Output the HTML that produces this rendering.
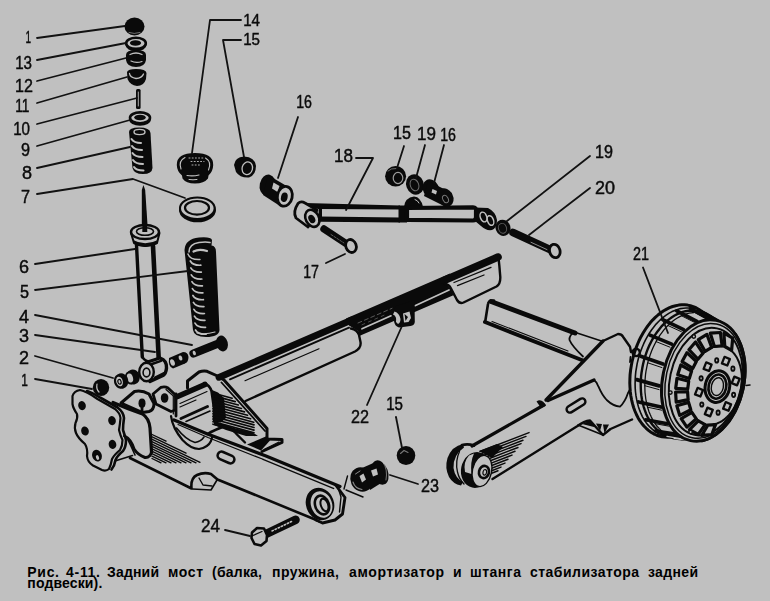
<!DOCTYPE html>
<html lang="ru"><head><meta charset="utf-8"><title>Рис. 4-11. Задний мост</title>
<style>
html,body{margin:0;padding:0;background:#c0c0c0;}
body{width:770px;height:601px;overflow:hidden;position:relative;font-family:"Liberation Sans",sans-serif;}
svg{position:absolute;left:0;top:0;display:block}
.k{stroke:#0a0a0a;fill:none;stroke-linecap:round;stroke-linejoin:round}
.f{fill:#0a0a0a;stroke:none}
.g{fill:#c0c0c0;stroke:#0a0a0a;stroke-linejoin:round;stroke-linecap:round}
.b{fill:#c0c0c0;stroke:none}
.l{stroke:#c0c0c0;fill:none;stroke-linecap:round}
.ld{stroke:#111;stroke-width:1.8;fill:none;stroke-linecap:round;stroke-linejoin:round}
.n{font-family:"Liberation Sans",sans-serif;font-size:18px;fill:#0a0a0a;stroke:#0a0a0a;stroke-width:.45px}
.c{font-family:"Liberation Sans",sans-serif;font-weight:bold;font-size:14px;fill:#000}
</style></head><body>
<svg width="770" height="601" viewBox="0 0 770 601">
<rect width="770" height="601" fill="#c0c0c0"/>
<!-- nut 1 -->
<ellipse class="f" cx="134.5" cy="26.5" rx="10" ry="9"/>
<path class="l" stroke-width="1" d="M129,32.5 Q134,34.5 140,32.5" opacity=".55"/>
<!-- washer 13 -->
<ellipse class="f" cx="136" cy="45" rx="10.5" ry="6.2"/>
<ellipse class="g" stroke-width="2.6" cx="136" cy="43.3" rx="9.8" ry="5.6"/>
<ellipse class="f" cx="135.5" cy="43" rx="5.6" ry="2.8"/>
<!-- cup 12 -->
<path class="f" d="M126,55 Q126,50 136,50 Q146,50 146,55 L146,60 Q145,67 136,67 Q127,67 126,60 Z"/>
<path class="l" stroke-width="1.3" d="M130,54.5 Q136,51.5 142,54.5"/>
<path class="l" stroke-width="1.2" d="M131,61 Q136,63.5 142,61.5"/>
<!-- cup 11 -->
<path class="f" d="M127,72 Q128,69 136,69 Q146,69 146.5,73 L146,79 Q144,86 137,86 Q130,85 127.5,79 Z"/>
<path class="l" stroke-width="1.3" d="M129.5,73.5 Q130,77.5 136,78.5 Q142,78 143.5,74"/>
<!-- pin 10 -->
<rect class="f" x="136" y="89" width="4.6" height="20" rx="1.5"/>
<path class="l" stroke-width=".9" d="M138.3,92 V106"/>
<!-- washer 9 -->
<ellipse class="f" cx="140" cy="119.6" rx="11" ry="6.2"/>
<ellipse class="g" stroke-width="2.6" cx="140" cy="117.8" rx="10" ry="5.4"/>
<ellipse class="f" cx="140" cy="117.5" rx="5.8" ry="2.8"/>
<!-- spring 8 -->
<path class="f" d="M129,132 Q129,127.5 139,127.5 Q150,127.5 150.5,133 L152.5,168 Q152,174 143,174 Q134,174 132.5,168 Z"/>
<ellipse class="l" stroke-width="1.4" cx="139.5" cy="132" rx="5.5" ry="2.6"/>
<g class="l" stroke-width="2">
<path d="M131.5,139 Q134,143 141,143"/>
<path d="M132,146 Q134.5,150 142,150"/>
<path d="M132.5,153 Q135,157 142.5,157"/>
<path d="M133,160 Q135.5,164 143,164"/>
<path d="M134,167 Q136,170.5 143.5,170.5"/>
</g>

<!-- shock rod -->
<path class="f" d="M141.8,190 L143.4,185 L145.2,190 L147.8,229 L141.8,229 Z"/>
<!-- cap -->
<path class="g" stroke-width="2" d="M131,233 L134,243 Q145,249 157,243 L159.5,233 Z"/>
<path class="f" d="M133,240 Q145,246.500 158,240 L157,244 Q145,250 134,244 Z"/>
<ellipse class="g" stroke-width="2.4" cx="145" cy="232" rx="14" ry="7"/>
<ellipse class="g" stroke-width="1.6" cx="145" cy="231.5" rx="8.5" ry="3.8"/>
<path class="f" d="M142.5,222 L147,222 L147.3,232 L142.3,232 Z"/>
<!-- tube -->
<path class="k" stroke-width="3.4" d="M136.5,245 L142.3,357"/>
<path class="k" stroke-width="4.6" d="M153,246 L158.8,360"/>
<path class="k" stroke-width="2.6" d="M142.3,356 Q143.5,360.5 149,361.5"/>
<!-- eye 3 -->
<path class="g" stroke-width="3.4" d="M146,362.5 L160,358 Q167,360.5 166.5,368 Q166,373.500 163,375.500 L150,381.500 Z"/>
<path class="k" stroke-width="2.4" d="M152,364 L161,360.8"/>
<path class="k" stroke-width="2" d="M155,377.5 L164,373"/>
<ellipse class="g" stroke-width="2.4" cx="146.5" cy="372" rx="7.3" ry="9.2"/>
<ellipse class="g" stroke-width="1.6" cx="146.5" cy="372.5" rx="3.4" ry="4.4"/>
<!-- spacer 4 -->
<path class="f" d="M169,358 L183,352 Q188,352 188.5,357 Q188.5,362 185,363.5 L173,368.5 Q168,367 169,358 Z"/>
<ellipse class="b" cx="172.5" cy="362.5" rx="2.2" ry="3.4" transform="rotate(-20 172.5 362.5)"/>
<ellipse class="b" cx="180.5" cy="358" rx="1.8" ry="2.6" transform="rotate(-20 180.5 358)"/>
<!-- bolt 4 -->
<path class="k" stroke-width="8.2" stroke-linecap="butt" d="M193.5,353.5 L219,343.2"/>
<ellipse class="f" cx="222" cy="343.5" rx="5.8" ry="8" transform="rotate(-15 222 343.5)"/>
<ellipse class="b" cx="194.3" cy="353" rx="1.5" ry="2.4" transform="rotate(-20 194.3 353)"/>
<!-- bushings 2 -->
<ellipse class="f" cx="133" cy="377" rx="6.8" ry="7.6" transform="rotate(-15 133 377)"/>
<ellipse class="g" stroke-width="2" cx="130" cy="378" rx="4" ry="5.6" transform="rotate(-15 130 378)"/>
<ellipse class="f" cx="121.5" cy="381" rx="6.8" ry="7.8" transform="rotate(-15 121.5 381)"/>
<ellipse class="g" stroke-width="2.2" cx="119.5" cy="381.5" rx="4.4" ry="6" transform="rotate(-15 119.5 381.5)"/>
<ellipse class="g" stroke-width="1.2" cx="119.5" cy="381.8" rx="1.6" ry="2.4" transform="rotate(-15 119.5 381.8)"/>
<!-- nut 1 lower -->
<ellipse class="f" cx="101" cy="387.5" rx="8.2" ry="8.6"/>
<path class="l" stroke-width="1.2" d="M97,384 Q96,389 99,392"/>

<!-- spring 5 -->
<path class="f" d="M184.5,250 Q185,239 199,237.5 Q211,236.5 212,240 L211.5,245.5 Q216,246 216,252 L219.5,330 Q219,337 206,337 Q194,337 193,330 Z"/>
<path class="l" stroke-width="1.6" d="M189,252 Q189,244 199,242.5 Q206,241.5 210,242.5"/>
<path class="l" stroke-width="2.2" d="M193.5,251.5 Q199,248.5 207,251"/>
<path class="l" stroke-width="1.4" d="M188,254 Q190,260 200,259.5"/>
<g class="l" stroke-width="1.7">
<path d="M190.3,261.0 Q192.8,265.6 200.8,265.2"/>
<path d="M190.8,267.9 Q193.3,272.5 201.3,272.1"/>
<path d="M191.3,274.8 Q193.8,279.4 201.8,279.0"/>
<path d="M191.9,281.7 Q194.4,286.3 202.4,285.9"/>
<path d="M192.4,288.6 Q194.9,293.2 202.9,292.8"/>
<path d="M192.9,295.5 Q195.4,300.1 203.4,299.7"/>
<path d="M193.4,302.4 Q195.9,307.0 203.9,306.6"/>
<path d="M193.9,309.3 Q196.4,313.9 204.4,313.5"/>
<path d="M194.4,316.2 Q196.9,320.8 204.9,320.4"/>
<path d="M195.0,323.1 Q197.5,327.7 205.5,327.3"/>
<path d="M195.5,330.0 Q198.0,334.6 206.0,334.2"/>
</g>
<path class="l" stroke-width="1.2" d="M197,333 Q205,335 215,332"/>

<!-- cup 14 -->
<path class="f" d="M176.800,165 Q176.500,153 195,153 Q213.500,153 213.200,165 Q213,171.500 208.500,175.500 L208,178.500 Q204,183.500 195,183.500 Q186,183.500 182.500,178.500 L182,175.500 Q177,171.500 176.800,165 Z"/>
<path class="l" stroke-width="1.1" d="M181,169 Q178,161 185,157.500"/>
<path class="l" stroke-width="1.1" d="M208.500,170 Q212,162 205.500,158"/>
<path class="l" stroke-width="1.1" d="M187,175.500 Q193,176.500 199,175"/>
<path class="l" stroke-width="1" d="M189,179.500 Q193,180.200 197,179.500"/>
<g class="l" stroke-width=".9" stroke-dasharray="1 2.200"><path d="M189,158 H203"/><path d="M191,161.500 H204"/><path d="M192,165 H200"/></g>
<!-- nut 15 -->
<path class="f" d="M234,165 Q235,157 244,156.500 Q255,157 256,166 Q256,175 249,177.500 Q240,178 236,172 Z"/>
<ellipse class="l" stroke-width="1.300" cx="247.300" cy="168.300" rx="5.200" ry="6.400" transform="rotate(15 247.300 168.300)"/>
<!-- ring 7 -->
<ellipse class="f" cx="197.500" cy="210" rx="18.500" ry="12.300"/>
<ellipse class="g" stroke-width="2" cx="197.300" cy="208.300" rx="17.3" ry="10.800"/>
<ellipse class="g" stroke-width="2.200" cx="197" cy="207.800" rx="12" ry="6.800"/>

<!-- bushing 16 (left) -->
<ellipse class="f" cx="267.5" cy="185" rx="7.8" ry="10.6" transform="rotate(12 267.5 185)"/>
<path class="f" d="M268,175 L290,188 L280,206 L263,195 Z"/>
<path class="b" d="M273.500,182.500 L279.500,186 L277.500,192 L272,188.500 Z"/>
<ellipse class="g" stroke-width="2.800" cx="284.800" cy="196.300" rx="7.400" ry="10" transform="rotate(12 284.800 196.300)"/>
<ellipse class="f" cx="284.300" cy="197.300" rx="3.300" ry="4.800" transform="rotate(12 284.300 197.300)"/>
<!-- rod 18 left eye -->
<path class="g" stroke-width="2.8" d="M298,203.5 Q301,200.500 305,203 L317,210 L308,227 L296,218 Q292.500,212 298,203.500 Z"/>
<ellipse class="g" stroke-width="2.600" cx="312.300" cy="218.300" rx="6.600" ry="9" transform="rotate(-28 312.300 218.300)"/>
<ellipse class="f" cx="311.800" cy="219" rx="3.200" ry="4.400" transform="rotate(-28 311.800 219)"/>
<!-- rod body -->
<path class="f" d="M305,203 L400,205.600 L400,209.500 L318,209 L309,205.800 Z"/>
<path class="f" d="M320,216.500 L400,217.500 L400,222.500 L320,221.800 Z"/>
<path class="f" d="M319,207 L322,207 L322,221 L318,221 Z"/>
<!-- joint -->
<path class="f" d="M398.500,205.500 H407 V222.500 H398.500 Z"/>
<path class="f" d="M404,207 Q405,197.500 414,196.500 Q421,197 423,207 Z"/>
<path class="l" stroke-width="1" d="M415,199.500 Q418,200.500 419,203"/>
<!-- rod right segment -->
<path class="g" stroke-width="4.200" d="M407,208 L473,207.400 Q476.500,207.500 476,211 L476,217 Q476,220.500 473,220.500 L407,219.800 Z"/>
<!-- right eye -->
<path class="f" d="M475,207.500 L488,208 Q496,212 497,220 Q497,228 492,230 Q486,231 481,226 L475,221 Z"/>
<ellipse class="l" stroke-width="1.500" cx="483.500" cy="217" rx="3.200" ry="5" transform="rotate(-20 483.500 217)"/>
<ellipse class="l" stroke-width="1.500" cx="490.500" cy="220.500" rx="3" ry="5" transform="rotate(-20 490.500 220.500)"/>
<!-- nut 15 -->
<ellipse class="f" cx="395.600" cy="176.300" rx="10.500" ry="10.300"/>
<ellipse class="l" stroke-width="1.200" cx="398" cy="178" rx="4.800" ry="5.600" opacity=".8"/>
<path class="l" stroke-width=".9" d="M388,171 Q391,168 396,168.500" opacity=".6"/>
<!-- washer 19 -->
<ellipse class="f" cx="415" cy="184.500" rx="8.800" ry="10.400" transform="rotate(-20 415 184.500)"/>
<ellipse class="l" stroke-width="1" cx="414.500" cy="185" rx="4.200" ry="6" transform="rotate(-20 414.500 185)" opacity=".55"/>
<!-- bushing 16 right -->
<ellipse class="f" cx="431" cy="189" rx="8" ry="10" transform="rotate(-28 431 189)"/>
<path class="f" d="M428,181 L452,193 L446,207 L424,196 Z"/>
<ellipse class="f" cx="445.500" cy="197.500" rx="7.600" ry="9.600" transform="rotate(-28 445.500 197.500)"/>
<path class="b" d="M432.500,189 L437,191 L436,194.500 L431.500,192.500 Z"/>
<ellipse class="l" stroke-width="1" cx="445.500" cy="199" rx="2.600" ry="4" transform="rotate(-28 445.500 199)" opacity=".6"/>
<!-- washer 19 (right) -->
<ellipse class="f" cx="503" cy="227.800" rx="7.400" ry="8.200" transform="rotate(-20 503 227.800)"/>
<ellipse class="l" stroke-width="1" cx="502.500" cy="228.300" rx="4" ry="5" transform="rotate(-20 502.500 228.300)" opacity=".45"/>
<!-- bolt 20 -->
<path class="k" stroke-width="7.600" stroke-linecap="butt" d="M513,232.500 L551,250"/>
<path class="l" stroke-width="1" d="M531,242.300 L547,249.600" opacity=".7"/>
<ellipse class="g" stroke-width="2.800" cx="554.800" cy="251" rx="5.200" ry="6.800" transform="rotate(-15 554.800 251)"/>
<!-- bolt 17 -->
<path class="k" stroke-width="7.400" stroke-linecap="butt" d="M324,229 L346,243.500"/>
<path class="l" stroke-width=".9" d="M331,234.500 L344,243" opacity=".5" stroke-dasharray="2 1.500"/>
<ellipse class="g" stroke-width="2.800" cx="351" cy="246" rx="5.200" ry="6.600" transform="rotate(-20 351 246)"/>

<path class="k" stroke-width="6.8" stroke-linecap="butt" d="M219.0,377.3 L352.0,319.9"/>
<path class="k" stroke-width="1.9" d="M230.0,379.3 L349.0,327.6"/>
<path class="k" stroke-width="1.2" d="M245.0,380.7 L319.0,348.8"/>
<path class="k" stroke-width="2.4" d="M245.5,401 L355,351.5 Q361.5,348 360.5,342 L359,335 Q357.5,330 351,328.5"/>
<path class="f" d="M346.0,318.4 L450.0,273.5 L446.5,284.5 L451,289.5 L454,295.5 L454.0,295.1 L361.0,335.2 L359.5,336 L358,331 L349.0,325.4 Z"/>
<path class="l" stroke-width="1.7" d="M362.0,328.8 L391.0,315.8"/>
<path class="l" stroke-width="1.7" d="M415.0,305.7 L449.0,290.0"/>
<path class="l" stroke-width=".8" stroke-dasharray="4 3" d="M358.0,323.0 L392.0,308.3" opacity=".55"/>
<path class="l" stroke-width=".8" stroke-dasharray="3 4" d="M362.0,324.8 L385.0,314.8" opacity=".45"/>
<path class="f" d="M392.5,313 L396,306 L414.5,300 L414.8,322 Q414.5,325.5 410.5,326 L399,327.5 Q394.5,326 394,321 Z"/>
<path class="b" d="M394.500,311.500 Q399.500,313 400.500,319 Q400.500,323 398,324 L396,322 Q397,316 393,314.500 Z"/>
<path class="b" d="M403,313.500 L409.500,311.500 L411,318 L408.500,322 L404,322.500 Z"/>
<path class="f" d="M404.500,314 L408,317 L405.500,321 Z"/>
<path class="k" stroke-width="7.6" stroke-linecap="butt" d="M444.0,280.4 L498.0,257.1"/>
<path class="k" stroke-width="2.4" d="M498.200,255 Q499.500,266 500.300,277 Q500.500,284 496.500,286.500 L463.500,302.500 Q459.500,304 457,300 L451,288.500 Q449,284.500 445,284"/>
<path class="k" stroke-width="1.300" d="M454,282.500 L491,267.300"/>
<path class="k" stroke-width="1.300" d="M457.500,285.600 L484,275"/>
<!-- flange plate -->
<path class="g" stroke-width="2.2" d="M72.500,396 Q74,391 80,390 Q86,391 97.500,399 L115,409 Q120,413 120.500,418 Q120,424 119,430 Q120.500,436 122.500,440 Q122.500,446 120,450 Q114,455 112,459 Q111,465 109,469 Q106,471.500 102,470 L93,465.500 Q87.500,462 87,456 Q88,449 85,444 Q78,438 76,433 Q74,428 75.500,423 Q78,418 77,414 Q73,408 72.500,404 Z"/>
<path class="k" stroke-width="2.600" d="M87,391 Q93,393 100,397.500 L117.500,407.500 Q123.500,412 124,418 Q123,425 123,430 Q125,436 126,440 Q126,447 123,451 Q117,456 115.500,460 Q114.500,466 111.500,469.500"/>
<g class="f">
<ellipse cx="82" cy="405.600" rx="3.800" ry="4.600" transform="rotate(-15 82 405.600)"/>
<ellipse cx="112" cy="420.600" rx="3.800" ry="4.600" transform="rotate(-15 112 420.600)"/>
<ellipse cx="85" cy="431" rx="3.800" ry="4.600" transform="rotate(-15 85 431)"/>
<ellipse cx="112.500" cy="444.400" rx="3.800" ry="4.600" transform="rotate(-15 112.500 444.400)"/>
<ellipse cx="97" cy="455.600" rx="4.800" ry="6" transform="rotate(-20 97 455.600)"/>
</g>
<ellipse class="b" cx="97.500" cy="457.500" rx="1.500" ry="2.500" transform="rotate(-20 97.500 457.500)"/>
<!-- ears -->
<path class="g" stroke-width="3" d="M121,403 L134.500,391.500 Q142,390 149,394 L154,403.500 Q154,410 149,411.500 L142.500,412.500 Z"/>
<ellipse class="f" cx="142" cy="403.200" rx="3.500" ry="4.600"/>
<path class="f" d="M140.600,405 h2.800 v7 h-2.800 Z"/>
<path class="g" stroke-width="2.800" d="M153,394 L161,387.300 Q165,386 168,388 L175.500,395 L175.500,410 L171,411.500 L156,404 Z"/>
<ellipse class="f" cx="164.600" cy="398" rx="3.800" ry="4.800"/>
<path class="k" stroke-width="1.200" d="M166,389.500 L174,396.500"/>
<!-- saddle -->
<path class="k" stroke-width="3.200" d="M113,402.500 Q128,409 142.500,414 Q149,418 150,428 L151.500,452"/>
<path class="k" stroke-width="3" d="M124.500,436 Q131,439 134,449 Q138,455 145,457.500 Q150,458 151.500,452"/>
<path class="k" stroke-width="1.600" d="M128,440 Q131.500,447 135,455"/>
<path class="k" stroke-width="1.600" d="M115,461 L132.500,455.500"/>
<!-- box bracket vertical edge -->
<path class="k" stroke-width="2.800" d="M176,394 L176,416"/>
<path class="k" stroke-width="1.200" d="M173.300,396 L173.300,414"/>
<!-- spring seat bracket outer -->
<path class="k" stroke-width="3" d="M187.500,388 L187.500,381 L199,372 Q203,370.500 207,371.300 L217.500,376 L224,380 L267,428.500 L267,439 L282,439.500 L282,442.500 L262,451.500"/>
<path class="k" stroke-width="1.800" d="M221.500,382.500 L265,431"/>
<path class="f" d="M247,444.500 L267,436 L270,440.500 L261,450.500 Z"/>
<path class="k" stroke-width="1.2" d="M264,449.500 L279,442"/>
<!-- inner box -->
<path class="k" stroke-width="5.600" stroke-linecap="butt" d="M177.500,396.500 L205,384.500"/>
<path class="k" stroke-width="2.600" d="M204,383 Q209.500,385 211.500,391 L214,408 L214,420"/>
<path class="k" stroke-width="1.200" d="M180,403.500 L207,391.500"/>
<path class="k" stroke-width="1.200" d="M180,407 L196,400"/>
<path class="k" stroke-width="3" d="M181,418.500 L207.500,406.500"/>
<path class="k" stroke-width="1.600" d="M186,421.500 L210,411"/>
<!-- dark hatch triangle -->
<path class="f" d="M212,390 L218,392.500 L224,398 L226,418 L221,422.500 L214,422 Z"/>
<g class="k" stroke-width="1.7" stroke-linecap="butt">
<path d="M213.0,393.0 L232.1,398.2"/>
<path d="M213.0,395.6 L235.2,401.6"/>
<path d="M213.0,398.2 L238.3,405.0"/>
<path d="M213.0,400.8 L241.4,408.5"/>
<path d="M213.0,403.4 L244.5,411.9"/>
<path d="M213.0,406.0 L247.5,415.3"/>
<path d="M213.0,408.6 L250.6,418.8"/>
<path d="M213.0,411.2 L253.7,422.2"/>
<path d="M213.0,413.8 L254.0,424.9"/>
<path d="M213.0,416.4 L254.0,427.5"/>
<path d="M213.0,419.0 L254.0,430.1"/>
<path d="M213.0,421.6 L254.0,432.7"/>
<path d="M213.0,424.2 L254.0,435.3"/>
</g>
<path class="f" d="M214,421.500 L236,428.500 L252,432 L258,436 L246,436 L226,430 L214,425 Z"/>
<!-- hump -->
<path class="k" stroke-width="2.400" d="M207.500,434 Q214,430 224,426.500 Q232,428 237.500,435 L245,442.500"/>
<!-- U curves -->
<path class="k" stroke-width="2.200" d="M171,416 Q172.500,428 182.500,440 Q191,449 199,449 Q208,447.500 211,441 L212.500,436"/>
<path class="k" stroke-width="1.600" d="M176.500,428 Q186,440 195,442.500 Q201,441.500 204,437"/>
<path class="k" stroke-width="1.200" d="M178,421 L206,433.500"/>

<!-- left trailing arm -->
<path class="k" stroke-width="3.200" d="M174,420 L207.500,434 L266,456 L340,486.500"/>
<path class="k" stroke-width="1.200" d="M178,424.500 L208,437.500 L263,459.300"/>
<path class="k" stroke-width="1.300" d="M263,459.300 L337,489.800"/>
<path class="k" stroke-width="2.600" d="M130,458 L191.500,488.500 Q190.500,478 197,475 Q204,471.800 211,474 L217.500,479.500 L320,521.500"/>
<path class="k" stroke-width="1.600" d="M192.500,489 L211,490 L217,480"/>
<path class="k" stroke-width="1.400" d="M199,478 L203,485 L212,486"/>
<!-- slot -->
<rect class="g" stroke-width="2.600" x="217.200" y="453.600" width="17.600" height="7.800" rx="3.900" transform="rotate(24 226 457.500)"/>
<!-- hatch -->
<g class="k" stroke-width="1.35">
<path d="M151.0,434.0 L166,441.2"/><path d="M151.1,436.4 L186,453.2"/><path d="M151.2,438.9 L200,462.3"/><path d="M151.3,441.4 L196,462.8"/><path d="M151.4,443.8 L191,462.8"/><path d="M151.5,446.2 L186,462.8"/><path d="M151.6,448.7 L181,462.8"/><path d="M151.7,451.1 L176,462.8"/><path d="M151.8,453.6 L171,462.8"/><path d="M151.9,456.1 L166,462.8"/><path d="M152.0,458.5 L161,462.8"/>
</g>
<!-- end -->
<path class="g" stroke-width="2.900" d="M336,485.500 L345,497.500 L342.500,514 L335,520 L322.500,523 L316,520"/>
<path class="k" stroke-width="1.400" d="M338.500,489 L341,497 L339.500,512"/>
<ellipse class="f" cx="320" cy="504" rx="14" ry="16.500" transform="rotate(-20 320 504)"/>
<ellipse class="b" cx="321.500" cy="504.500" rx="10.500" ry="13.500" transform="rotate(-20 321.500 504.500)"/>
<ellipse class="k" stroke-width="2.600" cx="322" cy="505" rx="6.800" ry="9.600" transform="rotate(-20 322 505)"/>
<ellipse class="k" stroke-width="2" cx="324.500" cy="505" rx="3.600" ry="6.600" transform="rotate(-20 324.500 505)"/>
<!-- small lines near end -->
<path class="k" stroke-width="1.400" d="M347.500,476 L344,489"/>
<path class="k" stroke-width="1.400" d="M346,490 L363,497"/>

<!-- right arm tube -->
<path class="g" stroke-width="0" d="M492,299 L603,341 L583,360 L485,322.500 L488,303 Z"/>
<path class="k" stroke-width="5" stroke-linecap="butt" d="M491,301.500 L575,333"/>
<path class="k" stroke-width="1.600" d="M574,332 L603,341.500"/>
<path class="k" stroke-width="2.600" d="M494,300.500 Q488.500,300 488,304 L485.300,321"/>
<path class="k" stroke-width="4" stroke-linecap="butt" d="M485,322 L583,360.500"/>
<path class="k" stroke-width="1.100" d="M492,321.500 L568,351"/>
<path class="k" stroke-width="1.800" d="M575,331.700 Q569,335 569.500,340 Q572,346 583,356.500"/>
<!-- bracket -->
<path class="k" stroke-width="3.400" d="M603,341 L546,400"/>
<path class="k" stroke-width="2.400" d="M603,341 L618,334 Q621.500,334 623,336.700 L630,346.700 L631,352"/>
<path class="k" stroke-width="1.800" d="M630.500,357 L630,362"/>
<path class="k" stroke-width="3.400" d="M548,400.500 L594,380"/>
<path class="k" stroke-width="1.800" d="M594,380 Q597,382 598.500,386.700 Q602,395 606.700,400 Q613,406 620,406.700 Q625,402 628,393 L632,386"/>
<path class="f" d="M536.500,401.500 Q540,399 543.500,402 L546,405.500 L541,408 Z"/>
<!-- slot -->
<rect class="g" stroke-width="2.400" x="565.500" y="402.200" width="21" height="6.600" rx="3.300" transform="rotate(-32 576 405.500)"/>
<!-- arm edges -->
<path class="k" stroke-width="3.200" d="M544,405 L472,446"/>
<path class="k" stroke-width="2.400" d="M632,419.500 L610.500,429 L603,435 L590,420.500 Q584,421 577.500,426 L492.500,479"/>
<path class="f" d="M582,424 L590,420.500 L596,427.500 Z"/>
<path class="f" d="M596,423.500 L602,424 L600,431 Z"/>
<path class="f" d="M603,424.500 L609,424.500 L604.500,433.500 Z"/>
<path class="k" stroke-width="1.600" d="M578,425 L603,435"/>
<!-- hatch -->
<g class="k" stroke-width="1.45">
<path d="M480,451.5 L529,432.6"/><path d="M482,453.3 L526,436.4"/><path d="M484,455.2 L523,440.2"/><path d="M486,457.1 L521,443.6"/><path d="M487.5,459.2 L518,447.5"/><path d="M489,461.3 L515,451.3"/><path d="M490,463.6 L512,455.1"/><path d="M490.5,466 L508,459.3"/><path d="M491,468.5 L505,463.1"/><path d="M491,471 L501,467.1"/><path d="M491,473.5 L498,470.8"/>
</g>
<!-- bushing -->
<path class="f" d="M463,444 Q452,446 447.500,458 Q444.500,468 449,477 Q453,484 461,485.500 L463,482 Q455,478 453.500,468 Q453,455 464,447.500 Z"/>
<path class="k" stroke-width="1.300" d="M459.500,451.500 Q455,461 457.500,472 Q459,479 464,484"/>
<path class="k" stroke-width="2.800" d="M462,445 Q468,443.500 474,445.500"/>
<ellipse class="f" cx="476" cy="470" rx="15" ry="18" transform="rotate(12 476 470)"/>
<path class="b" d="M465,472 Q463,462 469,455.500 L474,453.500 Q470,462 471.500,474 Z"/>
<ellipse class="g" stroke-width="1.3" cx="482" cy="471" rx="9.600" ry="15.800" transform="rotate(12 482 471)"/>
<ellipse class="g" stroke-width="2.600" cx="484" cy="472" rx="5" ry="6.200" transform="rotate(12 484 472)"/>
<ellipse class="k" stroke-width="1.200" cx="484.800" cy="472.300" rx="1.800" ry="2.800" transform="rotate(12 484.800 472.300)"/>
<path class="f" d="M479,451 L497,444 L503,447 L492,458 Z"/>

<!-- nut 15 lower -->
<ellipse class="f" cx="406" cy="455.500" rx="9.300" ry="9.500"/>
<path class="l" stroke-width="1.100" d="M400.500,453.500 L404,450.500 L408,452.500" opacity=".6"/>
<!-- part 23 -->
<ellipse class="f" cx="361.500" cy="479.500" rx="11" ry="12.500" transform="rotate(-25 361.500 479.500)"/>
<path class="f" d="M362,468 L378,461 L386,480 L370,490 Z"/>
<ellipse class="f" cx="380" cy="472.500" rx="8" ry="12.600" transform="rotate(-20 380 472.500)"/>
<path class="b" d="M359.500,476 L363.500,473.500 L366,479.500 L362,482.500 Z"/>
<path class="b" d="M371,470.500 L376.500,468.500 L378,474.500 L373,476.500 Z"/>
<path class="l" stroke-width="1.100" d="M353,482 Q355,488.500 362,489.500" opacity=".7"/>
<path class="l" stroke-width="1" d="M355.500,474 L360,471" opacity=".7"/>
<path class="l" stroke-width="1" d="M383,462.500 Q388,469 386,480" opacity=".6"/>
<!-- bolt 24 -->
<path class="k" stroke-width="8.600" stroke-linecap="butt" d="M266,534.000 L295.500,519.800"/>
<path class="l" stroke-width="1.600" stroke-dasharray="1.400 2" d="M272,531 L291.500,521.500"/>
<path class="g" stroke-width="2.600" d="M252,532.500 L257,528 L264,528.500 L267,535 L266.500,541 L261,545.500 L254.500,544 L251.500,538 Z"/>
<path class="k" stroke-width="1.300" d="M253,535.500 L262,531.500"/>

<path class="g" stroke-width="3" d="M710.1,320.3 L708.0,317.6 L705.9,315.1 L703.6,312.9 L701.2,310.9 L698.6,309.2 L696.0,307.7 L693.2,306.6 L690.4,305.7 L687.6,305.1 L684.6,304.8 L681.7,304.8 L678.7,305.1 L675.7,305.7 L672.6,306.5 L669.6,307.7 L666.7,309.1 L663.7,310.8 L660.8,312.8 L658.0,315.0 L655.3,317.4 L652.6,320.1 L650.0,323.1 L647.6,326.2 L645.3,329.5 L643.1,333.0 L641.0,336.7 L639.1,340.5 L637.4,344.5 L635.8,348.6 L634.4,352.8 L633.2,357.0 L632.1,361.3 L631.3,365.7 L630.6,370.1 L630.1,374.5 L629.9,378.9 L629.8,383.2 L630.0,387.5 L630.3,391.7 L630.8,395.8 L631.6,399.8 L632.5,403.7 L633.6,407.5 L634.9,411.0 L636.4,414.5 L638.0,417.7 L639.8,420.7 L641.8,423.5 L643.9,426.0 L646.2,428.3 L648.5,430.4 L651.0,432.2 L653.6,433.8 L656.3,435.0 L659.1,436.0 L662.0,436.7 L664.9,437.1 L667.8,437.2 L670.8,437.0 L673.8,436.6 L702.0,440.7 L703.6,440.3 L705.2,439.8 L706.8,439.3 L708.4,438.6 L709.9,437.9 L711.5,437.1 L713.1,436.2 L714.6,435.3 L716.2,434.2 L717.7,433.1 L719.2,431.9 L720.6,430.6 L722.1,429.3 L723.5,427.8 L724.9,426.3 L726.2,424.8 L727.6,423.1 L728.8,421.5 L730.1,419.7 L731.3,417.9 L732.5,416.0 L733.6,414.1 L734.7,412.1 L735.7,410.1 L736.7,408.1 L737.6,406.0 L738.5,403.8 L739.3,401.7 L740.1,399.5 L740.8,397.2 L741.5,395.0 L742.1,392.7 L742.7,390.4 L743.2,388.1 L743.6,385.8 L744.0,383.5 L744.3,381.1 L744.6,378.8 L744.8,376.5 L744.9,374.1 L745.0,371.8 L745.0,369.5 L745.0,367.2 L744.9,365.0 L744.7,362.7 L744.5,360.5 L744.2,358.3 L743.8,356.2 L743.4,354.0 L742.9,352.0 L742.4,349.9 L741.8,347.9 L741.2,346.0 L740.5,344.1 L739.7,342.3 L738.9,340.5 L738.1,338.8 L737.2,337.1 L736.2,335.5 L735.2,334.0 Z"/>
<path class="k" stroke-width="1.6" d="M694.4,308.9 L691.7,308.3 L688.9,308.0 L686.1,308.0 L683.3,308.2 L680.5,308.6 L677.6,309.4 L674.8,310.4 L672.0,311.6 L669.2,313.1 L666.5,314.9 L663.8,316.9 L661.1,319.1 L658.6,321.5 L656.1,324.1 L653.8,327.0 L651.5,330.0 L649.3,333.2 L647.3,336.6 L645.4,340.1 L643.7,343.7 L642.1,347.5 L640.6,351.4 L639.3,355.3 L638.2,359.3 L637.2,363.4 L636.5,367.5 L635.8,371.7 L635.4,375.8 L635.2,379.9 L635.1,384.0 L635.2,388.1 L635.5,392.0 L636.0,395.9 L636.7,399.7 L637.5,403.4 L638.5,407.0 L639.7,410.4 L641.0,413.7 L642.5,416.8 L644.2,419.7 L646.0,422.4 L647.9,424.9 L650.0,427.2 L652.2,429.2 L654.5,431.1 L656.9,432.7 L659.4,434.0 L661.9,435.1 L664.6,435.9 L667.3,436.5"/>
<path class="k" stroke-width="2.4" d="M699.1,311.5 L696.5,311.0 L693.8,310.7 L691.1,310.6 L688.4,310.8 L685.6,311.2 L682.8,311.9 L680.1,312.9 L677.3,314.1 L674.6,315.5 L671.9,317.2 L669.3,319.1 L666.7,321.2 L664.2,323.6 L661.8,326.1 L659.5,328.9 L657.3,331.8 L655.1,334.9 L653.1,338.1 L651.3,341.5 L649.5,345.1 L647.9,348.7 L646.5,352.4 L645.2,356.3 L644.0,360.2 L643.1,364.1 L642.3,368.1 L641.6,372.2 L641.1,376.2 L640.9,380.2 L640.7,384.2 L640.8,388.2 L641.0,392.1 L641.4,395.9 L642.0,399.7 L642.8,403.3 L643.7,406.8 L644.8,410.2 L646.0,413.4 L647.4,416.5 L648.9,419.4 L650.6,422.2 L652.5,424.7 L654.4,427.0 L656.5,429.1 L658.7,431.0 L661.0,432.7 L663.3,434.1 L665.8,435.3 L668.4,436.2 L671.0,436.9"/>
<path class="k" stroke-width="1.3" d="M693.8,312.5 L691.4,312.8 L689.0,313.2 L686.5,313.8 L684.1,314.6 L681.7,315.6 L679.3,316.9 L676.9,318.2 L674.6,319.8 L672.3,321.6 L670.0,323.5 L667.8,325.6 L665.7,327.8 L663.7,330.2 L661.7,332.8 L659.8,335.4 L658.0,338.3 L656.3,341.2 L654.7,344.2 L653.2,347.3 L651.8,350.6 L650.5,353.9 L649.4,357.2 L648.3,360.7 L647.4,364.1 L646.7,367.7 L646.0,371.2 L645.5,374.7 L645.2,378.3 L644.9,381.8 L644.8,385.3 L644.9,388.8 L645.0,392.3 L645.4,395.7 L645.8,399.0 L646.4,402.2 L647.1,405.4 L648.0,408.5 L648.9,411.4 L650.1,414.3 L651.3,417.0 L652.6,419.6 L654.1,422.0 L655.6,424.3 L657.3,426.5 L659.1,428.4 L660.9,430.2 L662.9,431.9 L664.9,433.3 L667.0,434.6 L669.1,435.6"/>
<path class="k" stroke-width="3.7" stroke-linecap="butt" d="M702.7,312.5 L721.2,322.9"/>
<path class="k" stroke-width="1" stroke-linecap="butt" d="M707.1,315.1 L719.0,321.7"/>
<path class="k" stroke-width="3.7" stroke-linecap="butt" d="M690.5,308.7 L709.8,319.3"/>
<path class="k" stroke-width="1" stroke-linecap="butt" d="M694.9,312.5 L707.3,319.2"/>
<path class="k" stroke-width="3.7" stroke-linecap="butt" d="M676.8,310.9 L696.9,321.3"/>
<path class="k" stroke-width="1" stroke-linecap="butt" d="M681.5,315.8 L694.4,322.3"/>
<path class="k" stroke-width="3.7" stroke-linecap="butt" d="M662.7,319.6 L683.6,329.6"/>
<path class="k" stroke-width="1" stroke-linecap="butt" d="M667.9,325.5 L681.4,331.7"/>
<path class="k" stroke-width="3.7" stroke-linecap="butt" d="M650.0,335.1 L671.7,344.1"/>
<path class="k" stroke-width="1" stroke-linecap="butt" d="M656.1,341.6 L670.0,347.2"/>
<path class="k" stroke-width="3.7" stroke-linecap="butt" d="M640.7,356.2 L663.0,364.0"/>
<path class="k" stroke-width="1" stroke-linecap="butt" d="M647.8,362.8 L662.0,367.6"/>
<path class="k" stroke-width="3.7" stroke-linecap="butt" d="M636.7,379.6 L659.2,385.9"/>
<path class="k" stroke-width="1" stroke-linecap="butt" d="M644.8,385.7 L659.1,389.6"/>
<path class="k" stroke-width="3.7" stroke-linecap="butt" d="M638.6,402.0 L661.0,407.0"/>
<path class="k" stroke-width="1" stroke-linecap="butt" d="M647.6,407.2 L661.8,410.2"/>
<path class="k" stroke-width="3.7" stroke-linecap="butt" d="M645.6,419.8 L667.6,423.7"/>
<path class="k" stroke-width="1" stroke-linecap="butt" d="M655.2,423.7 L669.1,426.2"/>
<path class="k" stroke-width="3.7" stroke-linecap="butt" d="M655.5,431.0 L676.9,434.3"/>
<path class="k" stroke-width="1" stroke-linecap="butt" d="M665.5,433.7 L679.0,435.7"/>
<path class="k" stroke-width="3.7" stroke-linecap="butt" d="M665.8,436.0 L686.5,439.0"/>
<path class="k" stroke-width="1" stroke-linecap="butt" d="M675.8,437.7 L688.9,439.5"/>
<path class="k" stroke-width="2.4" d="M715.5,320.3 L713.3,318.2 L710.9,316.3 L708.4,314.7 L705.9,313.3 L703.2,312.2 L700.5,311.4 L697.7,310.9 L694.9,310.6 L692.0,310.6 L689.1,310.9"/>
<path class="k" stroke-width="1.6" d="M722.1,324.0 L720.3,322.2 L718.3,320.6 L716.3,319.2 L714.3,317.9 L712.1,316.9 L709.9,316.0 L707.7,315.3 L705.4,314.8 L703.1,314.5 L700.7,314.4"/>
<path class="k" stroke-width="2.4" d="M668.9,436.6 L670.5,437.2 L672.2,437.8 L673.9,438.3 L675.7,438.6 L677.5,438.9 L679.3,439.0 L681.1,439.0 L682.9,438.9 L684.7,438.7 L686.5,438.4"/>
<path class="k" stroke-width="2" d="M676.5,437.7 L678.3,438.4 L680.1,439.0 L681.9,439.4 L683.8,439.8 L685.7,440.0 L687.6,440.1 L689.5,440.0 L691.4,439.9 L693.3,439.6 L695.3,439.1"/>
<path class="f" d="M654.8,428.7 L657.2,431.0 L659.7,432.9 L662.3,434.6 L665.0,436.0 L667.9,437.1 L670.8,437.9 L673.7,438.4 L676.8,438.5 L679.8,438.4 L682.9,437.9 L700.1,440.4 L697.2,440.8 L694.3,441.0 L691.5,440.8 L688.6,440.4 L685.9,439.7 Z"/>
<path class="l" stroke-width="1.2" d="M666.9,436.3 L683.3,439.2"/>
<path class="l" stroke-width="1.2" d="M674.1,438.4 L690.3,440.6"/>
<path class="f" d="M715.0,320.6 L712.7,318.2 L710.3,316.1 L707.7,314.3 L705.0,312.8 L702.2,311.5 L699.4,310.6 L696.4,310.0 L693.4,309.7 L698.7,312.6 L701.6,312.9 L704.5,313.5 L707.4,314.4 L710.1,315.6 L712.7,317.1 L715.2,318.9 L717.6,321.0 L719.9,323.3 Z"/>
<ellipse class="g" stroke-width="3" cx="703.3" cy="380.5" rx="40.6" ry="61.5" transform="rotate(12 703.3 380.5)" />
<ellipse class="k" stroke-width="1.5" cx="704.3" cy="380.9" rx="38.4" ry="58.1" transform="rotate(12 704.3 380.9)" />
<ellipse class="k" stroke-width="2" cx="705.7" cy="381.6" rx="35.9" ry="54.4" transform="rotate(12 705.7 381.6)" />
<path class="g" stroke-width="3.2" d="M731.6,350.3 L732.7,338.2 L723.9,333.2 L724.8,346.5 Z"/>
<path class="g" stroke-width="3.2" d="M722.1,345.9 L720.4,332.5 L710.3,333.2 L714.4,346.5 Z"/>
<path class="g" stroke-width="3.2" d="M711.7,347.4 L706.9,334.4 L698.3,339.6 L705.1,351.4 Z"/>
<path class="g" stroke-width="3.2" d="M703.0,353.3 L695.5,342.0 L688.9,349.7 L697.9,359.2 Z"/>
<path class="g" stroke-width="3.2" d="M696.3,361.5 L686.9,352.7 L682.1,361.6 L692.7,368.4 Z"/>
<path class="g" stroke-width="3.2" d="M691.6,371.0 L680.8,365.0 L677.7,374.8 L689.3,378.5 Z"/>
<path class="g" stroke-width="3.2" d="M688.7,381.3 L677.0,378.3 L675.7,388.3 L687.7,389.0 Z"/>
<path class="g" stroke-width="3.2" d="M687.6,391.8 L675.6,392.0 L676.2,402.1 L688.1,399.6 Z"/>
<path class="g" stroke-width="3.2" d="M688.6,402.4 L676.8,405.7 L679.7,415.4 L690.8,409.8 Z"/>
<path class="g" stroke-width="3.2" d="M691.9,412.4 L681.2,418.7 L686.9,427.1 L696.3,418.8 Z"/>
<path class="g" stroke-width="3.2" d="M698.3,420.8 L689.5,429.6 L698.2,434.5 L705.1,424.6 Z"/>
<path class="g" stroke-width="3.2" d="M707.8,425.2 L701.8,435.3 L711.8,434.5 L715.5,424.6 Z"/>
<path class="k" stroke-width="2" d="M713.6,424.4 L715.4,424.0 L717.1,423.5 L718.9,422.7 L720.6,421.9 L722.3,420.8 L724.0,419.6 L725.6,418.3 L727.2,416.8 L728.8,415.2 L730.2,413.5 L731.7,411.6 L733.0,409.7 L734.3,407.6 L735.4,405.4 L736.5,403.2 L737.5,400.8 L738.5,398.4 L739.3,396.0 L740.0,393.5 L740.6,391.0 L741.0,388.4 L741.4,385.9 L741.7,383.3 L741.8,380.8 L741.8,378.2 L741.8,375.7 L741.6,373.3 L741.2,370.9 L740.8,368.5 L740.3,366.2 L739.6,364.1 L738.9,362.0 L738.0,360.0 L737.1,358.1 L736.0,356.3 L734.9,354.7 L733.7,353.1 L732.4,351.8 L731.0,350.5 L729.5,349.5"/>
<path class="k" stroke-width="1.3" d="M729.5,349.5 L728.1,348.6 L726.7,347.9 L725.2,347.3 L723.6,346.8 L722.1,346.5 L720.5,346.4 L718.8,346.4 L717.2,346.5 L715.6,346.8 L713.9,347.2 L712.3,347.8 L710.7,348.5 L709.0,349.3 L707.5,350.3 L705.9,351.4 L704.4,352.7 L702.9,354.0 L701.4,355.5 L700.0,357.1 L698.7,358.8 L697.4,360.6 L696.2,362.5 L695.1,364.5 L694.0,366.6 L693.0,368.7 L692.1,370.9 L691.3,373.1 L690.5,375.4 L689.9,377.7 L689.3,380.1 L688.9,382.5 L688.5,384.9 L688.3,387.3 L688.1,389.6 L688.0,392.0 L688.1,394.4 L688.2,396.7 L688.5,398.9 L688.8,401.2 L689.2,403.3 L689.8,405.4 L690.4,407.5 L691.1,409.4 L691.9,411.3 L692.8,413.0 L693.8,414.7 L694.8,416.2 L696.0,417.6 L697.2,419.0 L698.4,420.1 L699.8,421.2 L701.1,422.1 L702.6,422.9 L704.1,423.6 L705.6,424.1 L707.1,424.4 L708.7,424.6 L710.3,424.7 L712.0,424.6 L713.6,424.4"/>
<rect class="g" stroke-width="2.3" x="732.8" y="377.5" width="5.8" height="7" transform="rotate(22 735.7 381.0)"/>
<ellipse class="f" cx="732.9" cy="368.7" rx="2.5" ry="3.1"/>
<ellipse class="b" cx="732.9" cy="368.7" rx=".7" ry="1.1"/>
<rect class="g" stroke-width="2.3" x="723.0" y="357.7" width="5.8" height="7" transform="rotate(22 725.9 361.2)"/>
<ellipse class="f" cx="716.7" cy="360.4" rx="2.5" ry="3.1"/>
<ellipse class="b" cx="716.7" cy="360.4" rx=".7" ry="1.1"/>
<rect class="g" stroke-width="2.3" x="704.7" y="363.2" width="5.8" height="7" transform="rotate(22 707.6 366.7)"/>
<ellipse class="f" cx="701.1" cy="378.3" rx="2.5" ry="3.1"/>
<ellipse class="b" cx="701.1" cy="378.3" rx=".7" ry="1.1"/>
<rect class="g" stroke-width="2.3" x="696.1" y="388.7" width="5.8" height="7" transform="rotate(22 699.0 392.2)"/>
<ellipse class="f" cx="701.8" cy="404.5" rx="2.5" ry="3.1"/>
<ellipse class="b" cx="701.8" cy="404.5" rx=".7" ry="1.1"/>
<rect class="g" stroke-width="2.3" x="705.9" y="408.5" width="5.8" height="7" transform="rotate(22 708.8 412.0)"/>
<ellipse class="f" cx="718.1" cy="412.7" rx="2.5" ry="3.1"/>
<ellipse class="b" cx="718.1" cy="412.7" rx=".7" ry="1.1"/>
<rect class="g" stroke-width="2.3" x="724.2" y="402.9" width="5.8" height="7" transform="rotate(22 727.1 406.4)"/>
<ellipse class="f" cx="733.6" cy="394.8" rx="2.5" ry="3.1"/>
<ellipse class="b" cx="733.6" cy="394.8" rx=".7" ry="1.1"/>
<ellipse class="g" stroke-width="3" cx="717.4" cy="386.6" rx="12.2" ry="16" transform="rotate(12 717.4 386.6)"/>
<ellipse class="g" stroke-width="2.6" cx="717.4" cy="386.6" rx="8.8" ry="12.2" transform="rotate(12 717.4 386.6)"/>
<ellipse class="g" stroke-width="1.4" cx="717.4" cy="386.6" rx="6" ry="9" transform="rotate(12 717.4 386.6)"/>
<circle class="g" stroke-width="1.4" cx="693.8" cy="336.5" r="1.7"/>
<circle class="g" stroke-width="1.4" cx="670.4" cy="392.6" r="1.7"/>
<circle class="g" stroke-width="1.4" cx="690.6" cy="432.0" r="1.7"/>
<circle class="k" stroke-width="2.400" cx="636.200" cy="352.500" r="3.600"/>
<path class="k" stroke-width="1.5" d="M746,385.500 L750,385"/>
<g opacity=".995"><text class="n" transform="translate(25.44,43) scale(0.556,0.9)">1</text>
<text class="n" transform="translate(15.16,69) scale(0.842,1)">13</text>
<text class="n" transform="translate(15.11,91.5) scale(0.895,1)">12</text>
<text class="n" transform="translate(15.24,111.5) scale(0.765,1)">11</text>
<text class="n" transform="translate(13.16,135) scale(0.842,1)">10</text>
<text class="n" transform="translate(21.00,155.5) scale(0.900,1)">9</text>
<text class="n" transform="translate(22.00,179) scale(1.000,1)">8</text>
<text class="n" transform="translate(21.00,202.5) scale(0.900,1)">7</text>
<text class="n" transform="translate(19.00,273) scale(1.000,1)">6</text>
<text class="n" transform="translate(20.00,298) scale(0.900,1)">5</text>
<text class="n" transform="translate(19.00,323) scale(1.000,1)">4</text>
<text class="n" transform="translate(19.00,342) scale(1.000,1)">3</text>
<text class="n" transform="translate(19.00,364) scale(1.000,1)">2</text>
<text class="n" transform="translate(21.33,386) scale(0.667,0.95)">1</text>
<text class="n" transform="translate(243.16,26) scale(0.842,0.92)">14</text>
<text class="n" transform="translate(243.16,45) scale(0.842,0.94)">15</text>
<text class="n" transform="translate(296.21,108) scale(0.789,1)">16</text>
<text class="n" transform="translate(334.05,162) scale(0.947,1)">18</text>
<text class="n" transform="translate(393.11,139) scale(0.895,1)">15</text>
<text class="n" transform="translate(417.05,140) scale(0.947,1)">19</text>
<text class="n" transform="translate(440.21,141) scale(0.789,1)">16</text>
<text class="n" transform="translate(595.11,158) scale(0.895,1)">19</text>
<text class="n" transform="translate(595.00,194) scale(1.000,1)">20</text>
<text class="n" transform="translate(633.00,260) scale(0.800,1)">21</text>
<text class="n" transform="translate(303.21,278) scale(0.789,1)">17</text>
<text class="n" transform="translate(351.00,423) scale(0.900,1)">22</text>
<text class="n" transform="translate(386.16,410) scale(0.842,1)">15</text>
<text class="n" transform="translate(421.00,492) scale(0.900,1)">23</text>
<text class="n" transform="translate(201.00,532) scale(0.950,1)">24</text>
<path class="ld" d="M37,38 L125,26"/>
<path class="ld" d="M37,60 L126,43"/>
<path class="ld" d="M37,81 L126,58"/>
<path class="ld" d="M37,103 L127,77"/>
<path class="ld" d="M37,124 L137,98"/>
<path class="ld" d="M37,146 L130,120"/>
<path class="ld" d="M37,168 L130,147"/>
<path class="ld" d="M37,194 L133,179 L185,198"/>
<path class="ld" d="M35,264 L135,249"/>
<path class="ld" d="M35,290 L188,271"/>
<path class="ld" d="M35,315 L192,345"/>
<path class="ld" d="M35,335 L155,352"/>
<path class="ld" d="M35,356 L113,378"/>
<path class="ld" d="M35,379 L92,389"/>
<path class="ld" d="M241,20 L210,20 L192,153"/>
<path class="ld" d="M241,40 L223,40 L244,157"/>
<path class="ld" d="M298,117 L278,178"/>
<path class="ld" d="M356,158 L373,158 L346,210"/>
<path class="ld" d="M404,146 L397,168"/>
<path class="ld" d="M425,145 L416,178"/>
<path class="ld" d="M444,145 L434,183"/>
<path class="ld" d="M590,156 L507,221"/>
<path class="ld" d="M590,188 L529,235"/>
<path class="ld" d="M643,267.5 L668,333"/>
<path class="ld" d="M326,263 L345,254"/>
<path class="ld" d="M367,405 L402,326"/>
<path class="ld" d="M396,417 L402,448"/>
<path class="ld" d="M390,475 L418,484"/>
<path class="ld" d="M225,530 L250,536"/></g>
<text class="c" x="27.3" y="577" textLength="31.7" lengthAdjust="spacing">Рис.</text>
<text class="c" x="66" y="577" textLength="34" lengthAdjust="spacing">4-11.</text>
<text class="c" x="107" y="577" textLength="52" lengthAdjust="spacing">Задний</text>
<text class="c" x="168" y="577" textLength="35" lengthAdjust="spacing">мост</text>
<text class="c" x="212" y="577" textLength="50" lengthAdjust="spacing">(балка,</text>
<text class="c" x="272" y="577" textLength="67" lengthAdjust="spacing">пружина,</text>
<text class="c" x="349" y="577" textLength="95" lengthAdjust="spacing">амортизатор</text>
<text class="c" x="453" y="577" textLength="7" lengthAdjust="spacing">и</text>
<text class="c" x="470" y="577" textLength="51" lengthAdjust="spacing">штанга</text>
<text class="c" x="530" y="577" textLength="109" lengthAdjust="spacing">стабилизатора</text>
<text class="c" x="648" y="577" textLength="50" lengthAdjust="spacing">задней</text>
<text class="c" x="27.3" y="588" textLength="75" lengthAdjust="spacing">подвески).</text>
</svg>
</body></html>
